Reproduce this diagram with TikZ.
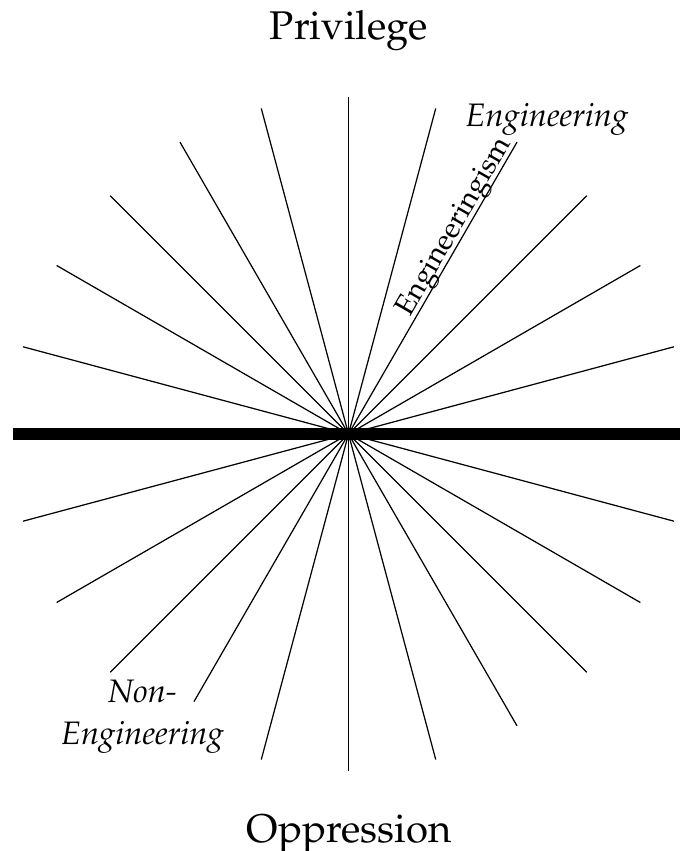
\documentclass[tikz,border=0pt]{standalone}
\usepackage[T1]{fontenc}
\usepackage{mathpazo}
\usetikzlibrary{calc}

\begin{document}
\begin{tikzpicture}[
    x=0.02cm, y=0.02cm,
    ray/.style={line width=0.7pt},
    axis/.style={line width=0.24cm},
    pole/.style={font=\fontsize{22.8}{27}\selectfont, inner sep=0pt, anchor=base},
    lbl/.style={font=\fontsize{18.5}{22}\selectfont\itshape, inner sep=0pt, anchor=base},
    along/.style={font=\fontsize{16.4}{19}\selectfont, inner sep=0pt, anchor=base west, rotate=60}
]
\useasboundingbox (0,0) rectangle (680,851);

\coordinate (c) at (348.5,417);

% rays
\foreach \a in {15,30,...,165,195,210,225,255,270,285,300,315,330,345}
    \draw[ray] (c) -- ++(\a:337);
\draw[ray] (c) -- ++(240:309) coordinate (nonend);

\draw[axis] (12.7,417) -- (680,417);

\node[pole] (priv) at (349,811) {Privilege};
\node[pole] (opp) at (349,9) {Oppression};

\node[lbl] (eng) at (547,724) {Engineering};
\node[along] (ism) at ($(c)+(60:131)+(150:5)$) {Engineeringism};
\node[lbl] (non) at (142.5,148) {Non-};
\node[lbl] (noneng) at (142.5,106) {Engineering};

\end{tikzpicture}
\end{document}
